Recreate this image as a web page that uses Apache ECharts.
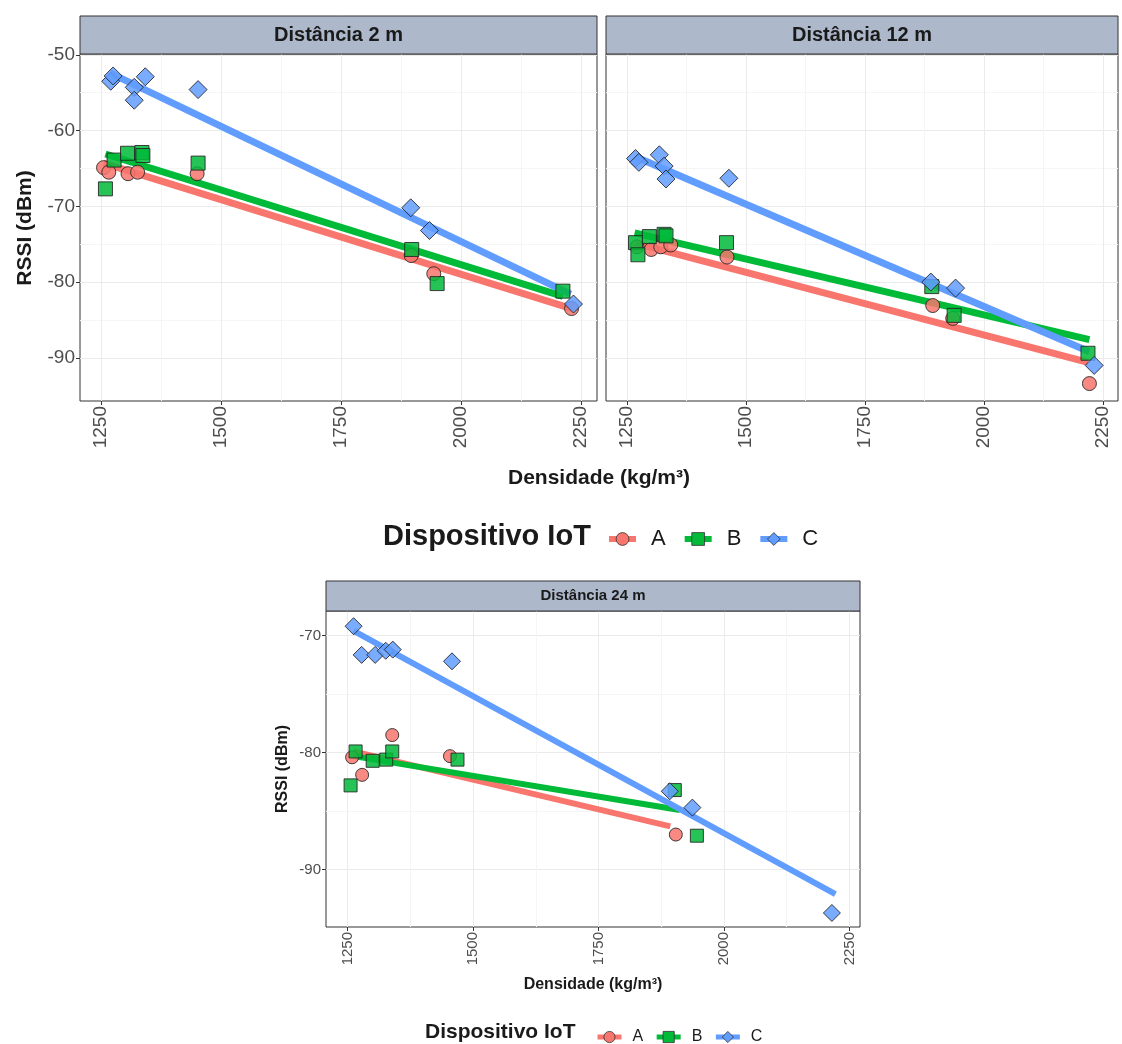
<!DOCTYPE html>
<html><head><meta charset="utf-8">
<script src="https://cdn.jsdelivr.net/npm/echarts@6/dist/echarts.min.js"></script>
<style>html,body{margin:0;padding:0;background:#fff}#c{width:1122px;height:1044px}</style>
</head><body><div id="c"></div>
<script>
// ---------------- data ----------------
const devices = ['A', 'B', 'C'];
const panelTitles = ['Distância 2 m', 'Distância 12 m', 'Distância 24 m'];
const xTicks = [1250, 1500, 1750, 2000, 2250];
const xMinor = [1375, 1625, 1875, 2125];
const yTicksTop = [-90, -80, -70, -60, -50];
const yMinorTop = [-85, -75, -65, -55];
const yTicksBottom = [-90, -80, -70];
const yMinorBottom = [-85, -75];

// Distância 2 m : points [densidade, RSSI]
const d2_A = [[1255,-64.9],[1266,-65.5],[1306,-65.7],[1326,-65.5],[1450,-65.7],[1896,-76.5],[1943,-78.9],[2230,-83.5]];
const d2_B = [[1259,-67.7],[1277,-63.9],[1305,-63.0],[1335,-62.9],[1337,-63.3],[1452,-64.3],[1897,-75.7],[1950,-80.2],[2212,-81.2]];
const d2_C = [[1270,-53.5],[1275,-52.8],[1319,-54.3],[1319,-56.0],[1342,-52.9],[1452,-54.6],[1895,-70.2],[1934,-73.2],[2234,-82.9]];
// fitted lines (endpoints)
const d2_fitA = [[1255,-64.3],[2230,-83.5]];
const d2_fitB = [[1259,-63.1],[2212,-81.9]];
const d2_fitC = [[1268,-52.4],[2228,-81.6]];

// Distância 12 m
const d12_A = [[1271,-75.35],[1301,-75.7],[1321,-75.35],[1342,-75.1],[1460,-76.7],[1892,-83.1],[1934,-84.8],[2221,-93.4]];
const d12_B = [[1268,-74.8],[1273,-76.4],[1297,-74.0],[1328,-73.7],[1332,-73.9],[1459,-74.8],[1890,-80.6],[1937,-84.4],[2218,-89.4]];
const d12_C = [[1268,-63.7],[1275,-64.2],[1318,-63.2],[1328,-64.7],[1332,-66.4],[1464,-66.3],[1888,-80.0],[1940,-80.8],[2231,-91.0]];
const d12_fitA = [[1269,-74.9],[2218,-90.6]];
const d12_fitB = [[1266,-73.5],[2221,-87.6]];
const d12_fitC = [[1269,-63.5],[2221,-89.2]];

// Distância 24 m
const d24_A = [[1259,-80.4],[1279,-81.9],[1339,-78.5],[1454,-80.3],[1904,-87.0]];
const d24_B = [[1256,-82.8],[1266,-79.9],[1300,-80.7],[1327,-80.6],[1339,-79.9],[1469,-80.6],[1902,-83.2],[1946,-87.1]];
const d24_C = [[1262,-69.2],[1278,-71.65],[1305,-71.65],[1326,-71.3],[1340,-71.2],[1458,-72.2],[1892,-83.3],[1937,-84.7],[2215,-93.7]];
const d24_fitA = [[1262,-79.9],[1893,-86.3]];
const d24_fitB = [[1262,-80.3],[1912,-84.9]];
const d24_fitC = [[1262,-69.6],[2222,-92.1]];

// ---------------- styling ----------------
const FONT = "'Liberation Sans', Arial, sans-serif";
const colors = ['#F8766D', '#00BA38', '#619CFF'];
const symbols = ['circle', 'rect', 'diamond'];

const grids = [
  {left: 80, top: 54, width: 517, height: 347},
  {left: 606, top: 54, width: 512, height: 347},
  {left: 326, top: 611, width: 534, height: 316}
];
const xRanges = [[1206, 2283], [1206, 2281], [1207, 2271]];
const yRanges = [[-95.7, -49.9], [-95.7, -49.9], [-94.9, -67.9]];

const xAxis = [], yAxis = [], series = [];
const plain = v => String(v);

function addAxes(g, fs, showY, yT, yM) {
  const [x0, x1] = xRanges[g], [y0, y1] = yRanges[g];
  xAxis.push({
    type: 'value', gridIndex: g, min: x0, max: x1,
    axisLine: {show: false},
    axisTick: {show: true, customValues: xTicks, length: 4, lineStyle: {color: '#333'}},
    axisLabel: {show: true, customValues: xTicks, formatter: plain, rotate: 90, fontSize: fs, color: '#4D4D4D', fontFamily: FONT, margin: 5},
    splitLine: {show: true, lineStyle: {color: '#EBEBEB', width: 1}}
  });
  xAxis.push({
    type: 'value', gridIndex: g, min: x0, max: x1,
    axisLine: {show: false},
    axisTick: {show: false, customValues: xMinor},
    axisLabel: {show: false, customValues: xMinor},
    splitLine: {show: true, lineStyle: {color: '#F5F5F5', width: 1}}
  });
  yAxis.push({
    type: 'value', gridIndex: g, min: y0, max: y1,
    axisLine: {show: false},
    axisTick: {show: showY, customValues: yT, length: 4, lineStyle: {color: '#333'}},
    axisLabel: {show: showY, customValues: yT, formatter: plain, fontSize: fs, color: '#4D4D4D', fontFamily: FONT, margin: 5},
    splitLine: {show: true, lineStyle: {color: '#EBEBEB', width: 1}}
  });
  yAxis.push({
    type: 'value', gridIndex: g, min: y0, max: y1, position: 'left',
    axisLine: {show: false},
    axisTick: {show: false, customValues: yM},
    axisLabel: {show: false, customValues: yM},
    splitLine: {show: true, lineStyle: {color: '#F5F5F5', width: 1}}
  });
}

function addPanel(g, fits, pts, lw, sizes) {
  const xi = g * 2, yi = g * 2;
  for (let k = 0; k < 3; k++) {
    series.push({
      type: 'line', name: devices[k], xAxisIndex: xi, yAxisIndex: yi,
      data: fits[k], showSymbol: false, symbol: symbols[k], symbolSize: sizes[k],
      lineStyle: {width: lw, color: colors[k], cap: 'butt'},
      itemStyle: {color: colors[k], borderColor: '#333', borderWidth: 1},
      z: 2, silent: true, animation: false
    });
  }
  for (let k = 0; k < 3; k++) {
    series.push({
      type: 'scatter', name: devices[k], xAxisIndex: xi, yAxisIndex: yi,
      data: pts[k], symbol: symbols[k], symbolSize: sizes[k],
      itemStyle: {color: colors[k], opacity: 0.85, borderColor: '#222', borderWidth: 1},
      z: 3, animation: false
    });
  }
}

addAxes(0, 19, true, yTicksTop, yMinorTop);
addAxes(1, 19, false, yTicksTop, yMinorTop);
addAxes(2, 15, true, yTicksBottom, yMinorBottom);

addPanel(0, [d2_fitA, d2_fitB, d2_fitC], [d2_A, d2_B, d2_C], 7, [14, 14, 18]);
addPanel(1, [d12_fitA, d12_fitB, d12_fitC], [d12_A, d12_B, d12_C], 7, [14, 14, 18]);
addPanel(2, [d24_fitA, d24_fitB, d24_fitC], [d24_A, d24_B, d24_C], 6, [13, 13, 17]);

function txt(text, x, y, size, bold, rot, align) {
  return {
    type: 'text', x: x, y: y, rotation: rot || 0, z: 10,
    style: {text: text, fill: '#1A1A1A', font: (bold ? 'bold ' : '') + size + 'px ' + FONT,
            textAlign: align || 'center', textVerticalAlign: 'middle', align: align || 'center', verticalAlign: 'middle'}
  };
}
function strip(g, y, h) {
  const gr = grids[g];
  return {type: 'rect', z: 1, shape: {x: gr.left, y: y, width: gr.width, height: h},
          style: {fill: '#AEB8CB', stroke: '#333', lineWidth: 1}};
}

const graphic = [
  strip(0, 16, 38), strip(1, 16, 38), strip(2, 581, 30),
  txt(panelTitles[0], 80 + 517 / 2, 35, 20, true),
  txt(panelTitles[1], 606 + 512 / 2, 35, 20, true),
  txt(panelTitles[2], 326 + 534 / 2, 596, 15, true),
  txt('RSSI (dBm)', 25, 228, 21, true, Math.PI / 2),
  txt('Densidade (kg/m³)', 599, 478, 21, true),
  txt('Dispositivo IoT', 383, 537, 29, true, 0, 'left'),
  txt('RSSI (dBm)', 283, 769, 16, true, Math.PI / 2),
  txt('Densidade (kg/m³)', 593, 985, 16, true),
  txt('Dispositivo IoT', 425, 1032, 21, true, 0, 'left')
];

const option = {
  backgroundColor: '#fff',
  animation: false,
  grid: grids.map(g => Object.assign({show: true, borderColor: '#333', borderWidth: 1, backgroundColor: 'transparent'}, g)),
  xAxis: xAxis,
  yAxis: yAxis,
  legend: [
    {data: devices, left: 601, top: 523, itemWidth: 27, itemHeight: 16, itemGap: 16, selectedMode: false,
     lineStyle: {width: 6}, itemStyle: {borderColor: '#333', borderWidth: 0.8},
     textStyle: {fontSize: 22, color: '#1A1A1A', fontFamily: FONT, padding: [0, 0, 0, 10]}},
    {data: devices, left: 590, top: 1024, itemWidth: 24, itemHeight: 14, itemGap: 11, selectedMode: false,
     lineStyle: {width: 5}, itemStyle: {borderColor: '#333', borderWidth: 0.8},
     textStyle: {fontSize: 16, color: '#1A1A1A', fontFamily: FONT, padding: [0, 0, 0, 6]}}
  ],
  graphic: graphic,
  series: series
};

const chart = echarts.init(document.getElementById('c'), null, {renderer: 'canvas'});
chart.setOption(option);
</script>
</body></html>
